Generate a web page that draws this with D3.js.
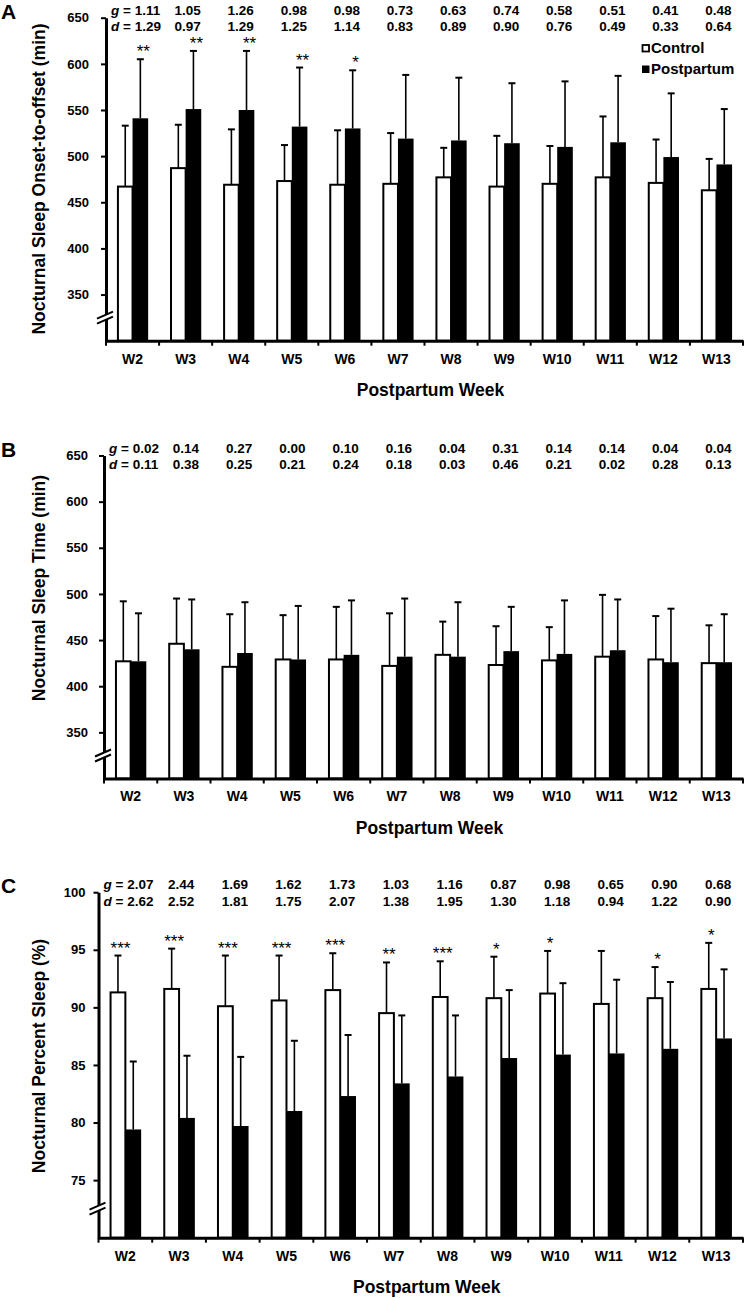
<!DOCTYPE html>
<html><head><meta charset="utf-8">
<script src="https://cdn.jsdelivr.net/npm/d3@7"></script>
<style>
body{margin:0;background:#fff}
svg{display:block}
text{font-family:"Liberation Sans",Arial,Helvetica,sans-serif;fill:#000}
</style>
</head><body>
<svg id="chart" width="746" height="1298"></svg>
<script>
// ---------- data ----------
const weeks = ["W2","W3","W4","W5","W6","W7","W8","W9","W10","W11","W12","W13"];
const seriesNames = ["Control","Postpartum"];

// Panel A: Nocturnal Sleep Onset-to-offset (min)
const onsetControl   = [467,487,469,473,469,470,477,467,470,477,471,463];
const onsetControlSD = [66,47,60,39,59,55,32,55,41,66,47,34];
const onsetPost      = [541,551,550,532,530,519,517,514,510,515,499,491];
const onsetPostSD    = [64,63,64,64,63,69,68,65,71,72,69,60];
const onsetG = ["1.11","1.05","1.26","0.98","0.98","0.73","0.63","0.74","0.58","0.51","0.41","0.48"];
const onsetD = ["1.29","0.97","1.29","1.25","1.14","0.83","0.89","0.90","0.76","0.49","0.33","0.64"];
const onsetStars = ["**","**","**","**","*","","","","","","",""];

// Panel B: Nocturnal Sleep Time (min)
const tstControl   = [427,446,421,429,429,422,434,423,428,432,429,425];
const tstControlSD = [65,49,57,48,57,57,36,42,36,67,47,41];
const tstPost      = [427,440,436,429,434,432,432,438,435,439,426,426];
const tstPostSD    = [52,54,55,58,59,63,59,48,58,55,58,52];
const tstG = ["0.02","0.14","0.27","0.00","0.10","0.16","0.04","0.31","0.14","0.14","0.04","0.04"];
const tstD = ["0.11","0.38","0.25","0.21","0.24","0.18","0.03","0.46","0.21","0.02","0.28","0.13"];
const tstStars = ["","","","","","","","","","","",""];

// Panel C: Nocturnal Percent Sleep (%)
const pctControl   = [91.3,91.6,90.1,90.6,91.5,89.5,90.9,90.8,91.2,90.3,90.8,91.6];
const pctControlSD = [3.2,3.5,4.4,3.9,3.2,4.4,3.1,3.6,3.7,4.6,2.7,4.0];
const pctPost      = [79.4,80.4,79.7,81.0,82.3,83.4,84.0,85.6,85.9,86.0,86.4,87.3];
const pctPostSD    = [5.9,5.4,6.0,6.1,5.3,5.9,5.3,5.9,6.2,6.4,5.8,6.0];
const pctG = ["2.07","2.44","1.69","1.62","1.73","1.03","1.16","0.87","0.98","0.65","0.90","0.68"];
const pctD = ["2.62","2.52","1.81","1.75","2.07","1.38","1.95","1.30","1.18","0.94","1.22","0.90"];
const pctStars = ["***","***","***","***","***","**","***","*","*","","*","*"];

const minTicks = [350,400,450,500,550,600,650];
const pctTicks = [75,80,85,90,95,100];

// ---------- layout ----------
const panels = [
  {letter:"A", title:"Nocturnal Sleep Onset-to-offset (min)", domain:[300,650], ticks:minTicks,
   c:onsetControl, cSD:onsetControlSD, p:onsetPost, pSD:onsetPostSD, g:onsetG, d:onsetD,
   stars:onsetStars, starOn:"p", legend:true,
   x0:106, x1:743, yTop:17.7, yBot:340.7, titleY:179, labelGap:12, brk:23},
  {letter:"B", title:"Nocturnal Sleep Time (min)", domain:[300,650], ticks:minTicks,
   c:tstControl, cSD:tstControlSD, p:tstPost, pSD:tstPostSD, g:tstG, d:tstD,
   stars:tstStars, starOn:"p", legend:false,
   x0:104, x1:743, yTop:455.5, yBot:778.5, titleY:588, labelGap:11, brk:23},
  {letter:"C", title:"Nocturnal Percent Sleep (%)", domain:[70,100], ticks:pctTicks,
   c:pctControl, cSD:pctControlSD, p:pctPost, pSD:pctPostSD, g:pctG, d:pctD,
   stars:pctStars, starOn:"c", legend:false,
   x0:98.5, x1:743, yTop:892.2, yBot:1237.7, titleY:1056, labelGap:8, brk:29}
];

const svg = d3.select("#chart");

panels.forEach(P => {
  const g = svg.append("g");
  const x = d3.scaleBand().domain(weeks).range([P.x0, P.x1]).paddingInner(0).paddingOuter(0);
  const sub = d3.scaleBand().domain(seriesNames).range([0, x.bandwidth()]).paddingInner(0).paddingOuter(0.7);
  const y = d3.scaleLinear().domain(P.domain).range([P.yBot, P.yTop]);
  const bw = sub.bandwidth();

  const rows = weeks.map((w,i) => ({w, i, c:P.c[i], cSD:P.cSD[i], p:P.p[i], pSD:P.pSD[i]}));

  function errBar(cx, m, sd){
    const yt = y(m + sd);
    g.append("line").attr("x1",cx).attr("x2",cx).attr("y1",y(m)).attr("y2",yt)
      .attr("stroke","#000").attr("stroke-width",1.6);
    g.append("line").attr("x1",cx-3.5).attr("x2",cx+3.5).attr("y1",yt).attr("y2",yt)
      .attr("stroke","#000").attr("stroke-width",2);
  }
  rows.forEach(r => {
    const xc = x(r.w) + sub("Control");
    const xp = x(r.w) + sub("Postpartum");
    g.append("rect").attr("x", xc+1).attr("y", y(r.c)).attr("width", bw-1)
      .attr("height", P.yBot - y(r.c)).attr("fill","#fff").attr("stroke","#000").attr("stroke-width",2);
    g.append("rect").attr("x", xp).attr("y", y(r.p)).attr("width", bw)
      .attr("height", P.yBot - y(r.p)).attr("fill","#000");
    errBar(xc + bw/2 + 0.5, r.c, r.cSD);
    errBar(xp + bw/2, r.p, r.pSD);
    const s = P.stars[r.i];
    if (s) {
      const onC = P.starOn === "c";
      const cx = onC ? xc + bw/2 + 3 : xp + bw/2 + 3;
      const top = onC ? y(r.c + r.cSD) : y(r.p + r.pSD);
      g.append("text").attr("x", cx).attr("y", top - 2).attr("text-anchor","middle")
        .style("font-size","17px").text(s);
    }
  });

  // y axis
  const yAxis = d3.axisLeft(y).tickValues(P.ticks).tickFormat(d3.format("d"))
    .tickSize(5).tickSizeOuter(0).tickPadding(P.labelGap);
  const ya = g.append("g").attr("transform",`translate(${P.x0},0)`).call(yAxis);
  ya.select(".domain").attr("stroke","#000").attr("stroke-width",3);
  ya.selectAll(".tick line").attr("stroke","#000").attr("stroke-width",2);
  ya.selectAll(".tick text").style("font-size","13px").style("font-weight","bold").attr("fill","#000");

  // x axis
  const xAxis = d3.axisBottom(x).tickSize(0).tickSizeOuter(0).tickPadding(13);
  const xa = g.append("g").attr("transform",`translate(0,${P.yBot})`).call(xAxis);
  xa.select(".domain").attr("stroke","#000").attr("stroke-width",3);
  xa.selectAll(".tick text").style("font-size","14px").style("font-weight","bold").attr("fill","#000");
  const bounds = weeks.map(w => x(w)).concat([P.x1]);
  g.selectAll(null).data(bounds).enter().append("line")
    .attr("x1", d => d).attr("x2", d => d).attr("y1", P.yBot).attr("y2", P.yBot + 5)
    .attr("stroke","#000").attr("stroke-width",2);

  // axis break
  const by = P.yBot - P.brk;
  g.append("polygon")
    .attr("points", `${P.x0-9},${by+1} ${P.x0+7},${by-6} ${P.x0+7},${by-1} ${P.x0-9},${by+6}`)
    .attr("fill","#fff");
  g.append("line").attr("x1",P.x0-9).attr("y1",by+1).attr("x2",P.x0+7).attr("y2",by-6)
    .attr("stroke","#000").attr("stroke-width",2);
  g.append("line").attr("x1",P.x0-9).attr("y1",by+6).attr("x2",P.x0+7).attr("y2",by-1)
    .attr("stroke","#000").attr("stroke-width",2);

  // effect sizes
  const rowsY = [P.yTop - 3, P.yTop + 13.5];
  [P.g, P.d].forEach((vals, k) => {
    const sym = k === 0 ? "g" : "d";
    vals.forEach((v, i) => {
      const t = g.append("text").attr("y", rowsY[k])
        .style("font-size","13.5px").style("font-weight","bold");
      if (i === 0) {
        t.attr("x", P.x0 + 5).attr("text-anchor","start");
        t.append("tspan").style("font-style","italic").text(sym);
        t.append("tspan").text(" = " + v);
      } else {
        t.attr("x", x(weeks[i]) + x.bandwidth()/2 + 2).attr("text-anchor","middle").text(v);
      }
    });
  });

  // titles
  g.append("text").attr("transform",`translate(45,${P.titleY}) rotate(-90)`)
    .attr("text-anchor","middle").style("font-size","17.5px").style("font-weight","bold").text(P.title);
  g.append("text").attr("x",(P.x0+P.x1)/2 + 6).attr("y",P.yBot + 55)
    .attr("text-anchor","middle").style("font-size","17.5px").style("font-weight","bold").text("Postpartum Week");
  g.append("text").attr("x",1).attr("y",P.yTop + 1)
    .style("font-size","21px").style("font-weight","bold").text(P.letter);

  // legend
  if (P.legend) {
    const lg = g.append("g");
    seriesNames.forEach((n, i) => {
      const by2 = 53 + i*21;
      lg.append("rect").attr("x", 642.5).attr("y", by2 - 8).attr("width", 6.5).attr("height", 6.5)
        .attr("fill", i === 0 ? "#fff" : "#000").attr("stroke","#000").attr("stroke-width", i===0?1.8:1);
      lg.append("text").attr("x", 651).attr("y", by2)
        .style("font-size","15px").style("font-weight","bold").text(n);
    });
  }
});
</script>
</body></html>
